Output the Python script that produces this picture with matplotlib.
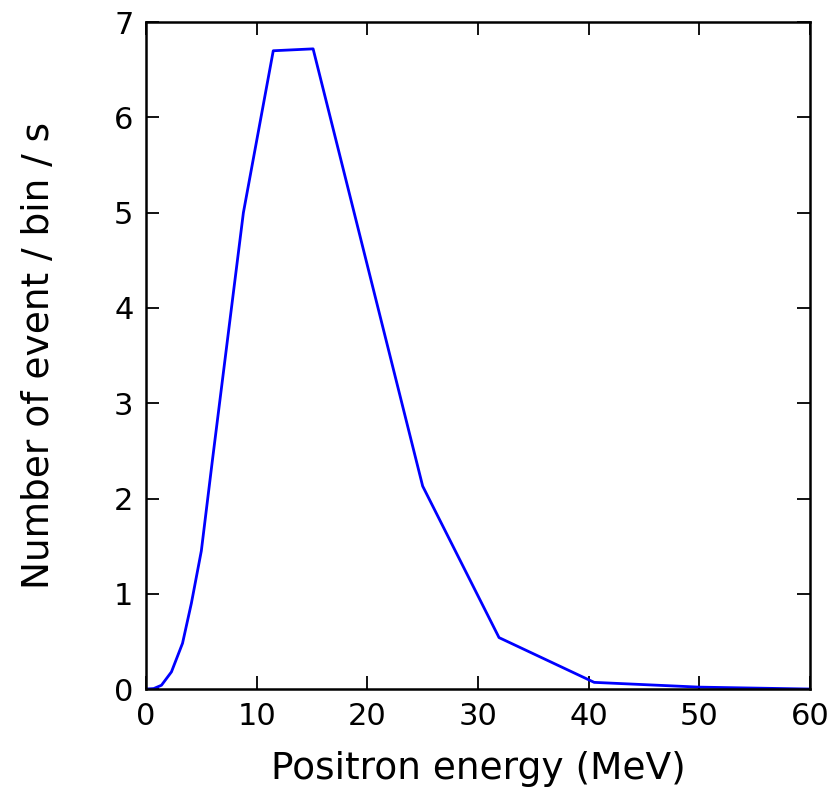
import matplotlib
matplotlib.use("Agg")
import matplotlib.pyplot as plt

# energy spectrum of positrons
energia = [0, 0.7, 1.4, 2.3, 3.3, 4.1, 5.0, 6.0, 8.8, 11.5, 15.1, 25.0, 31.9, 40.5, 50, 60]
eventos = [0, 0.005, 0.04, 0.18, 0.48, 0.9, 1.45, 2.4, 5.0, 6.7, 6.72, 2.13, 0.54, 0.07, 0.02, 0.0]

xticks = [0, 10, 20, 30, 40, 50, 60]
yticks = [0, 1, 2, 3, 4, 5, 6, 7]

fig = plt.figure(figsize=(8.4, 7.92), dpi=100)
ax = fig.add_axes([0.1738, 0.130, 0.7905, 0.842])

ax.plot(energia, eventos, color='b', linewidth=2.0)

ax.set_xlim(0, 60)
ax.set_ylim(0, 7)
ax.set_xticks(xticks)
ax.set_yticks(yticks)
ax.tick_params(direction='in', top=True, right=True, length=9.5, width=1.3,
               labelsize=22, pad=9)
for s in ax.spines.values():
    s.set_linewidth(1.8)

ax.set_xlabel('Positron energy (MeV)', fontsize=27, labelpad=15)
ax.set_ylabel('Number of event / bin / s', fontsize=27, labelpad=41)

plt.savefig('out.png', dpi=100)
